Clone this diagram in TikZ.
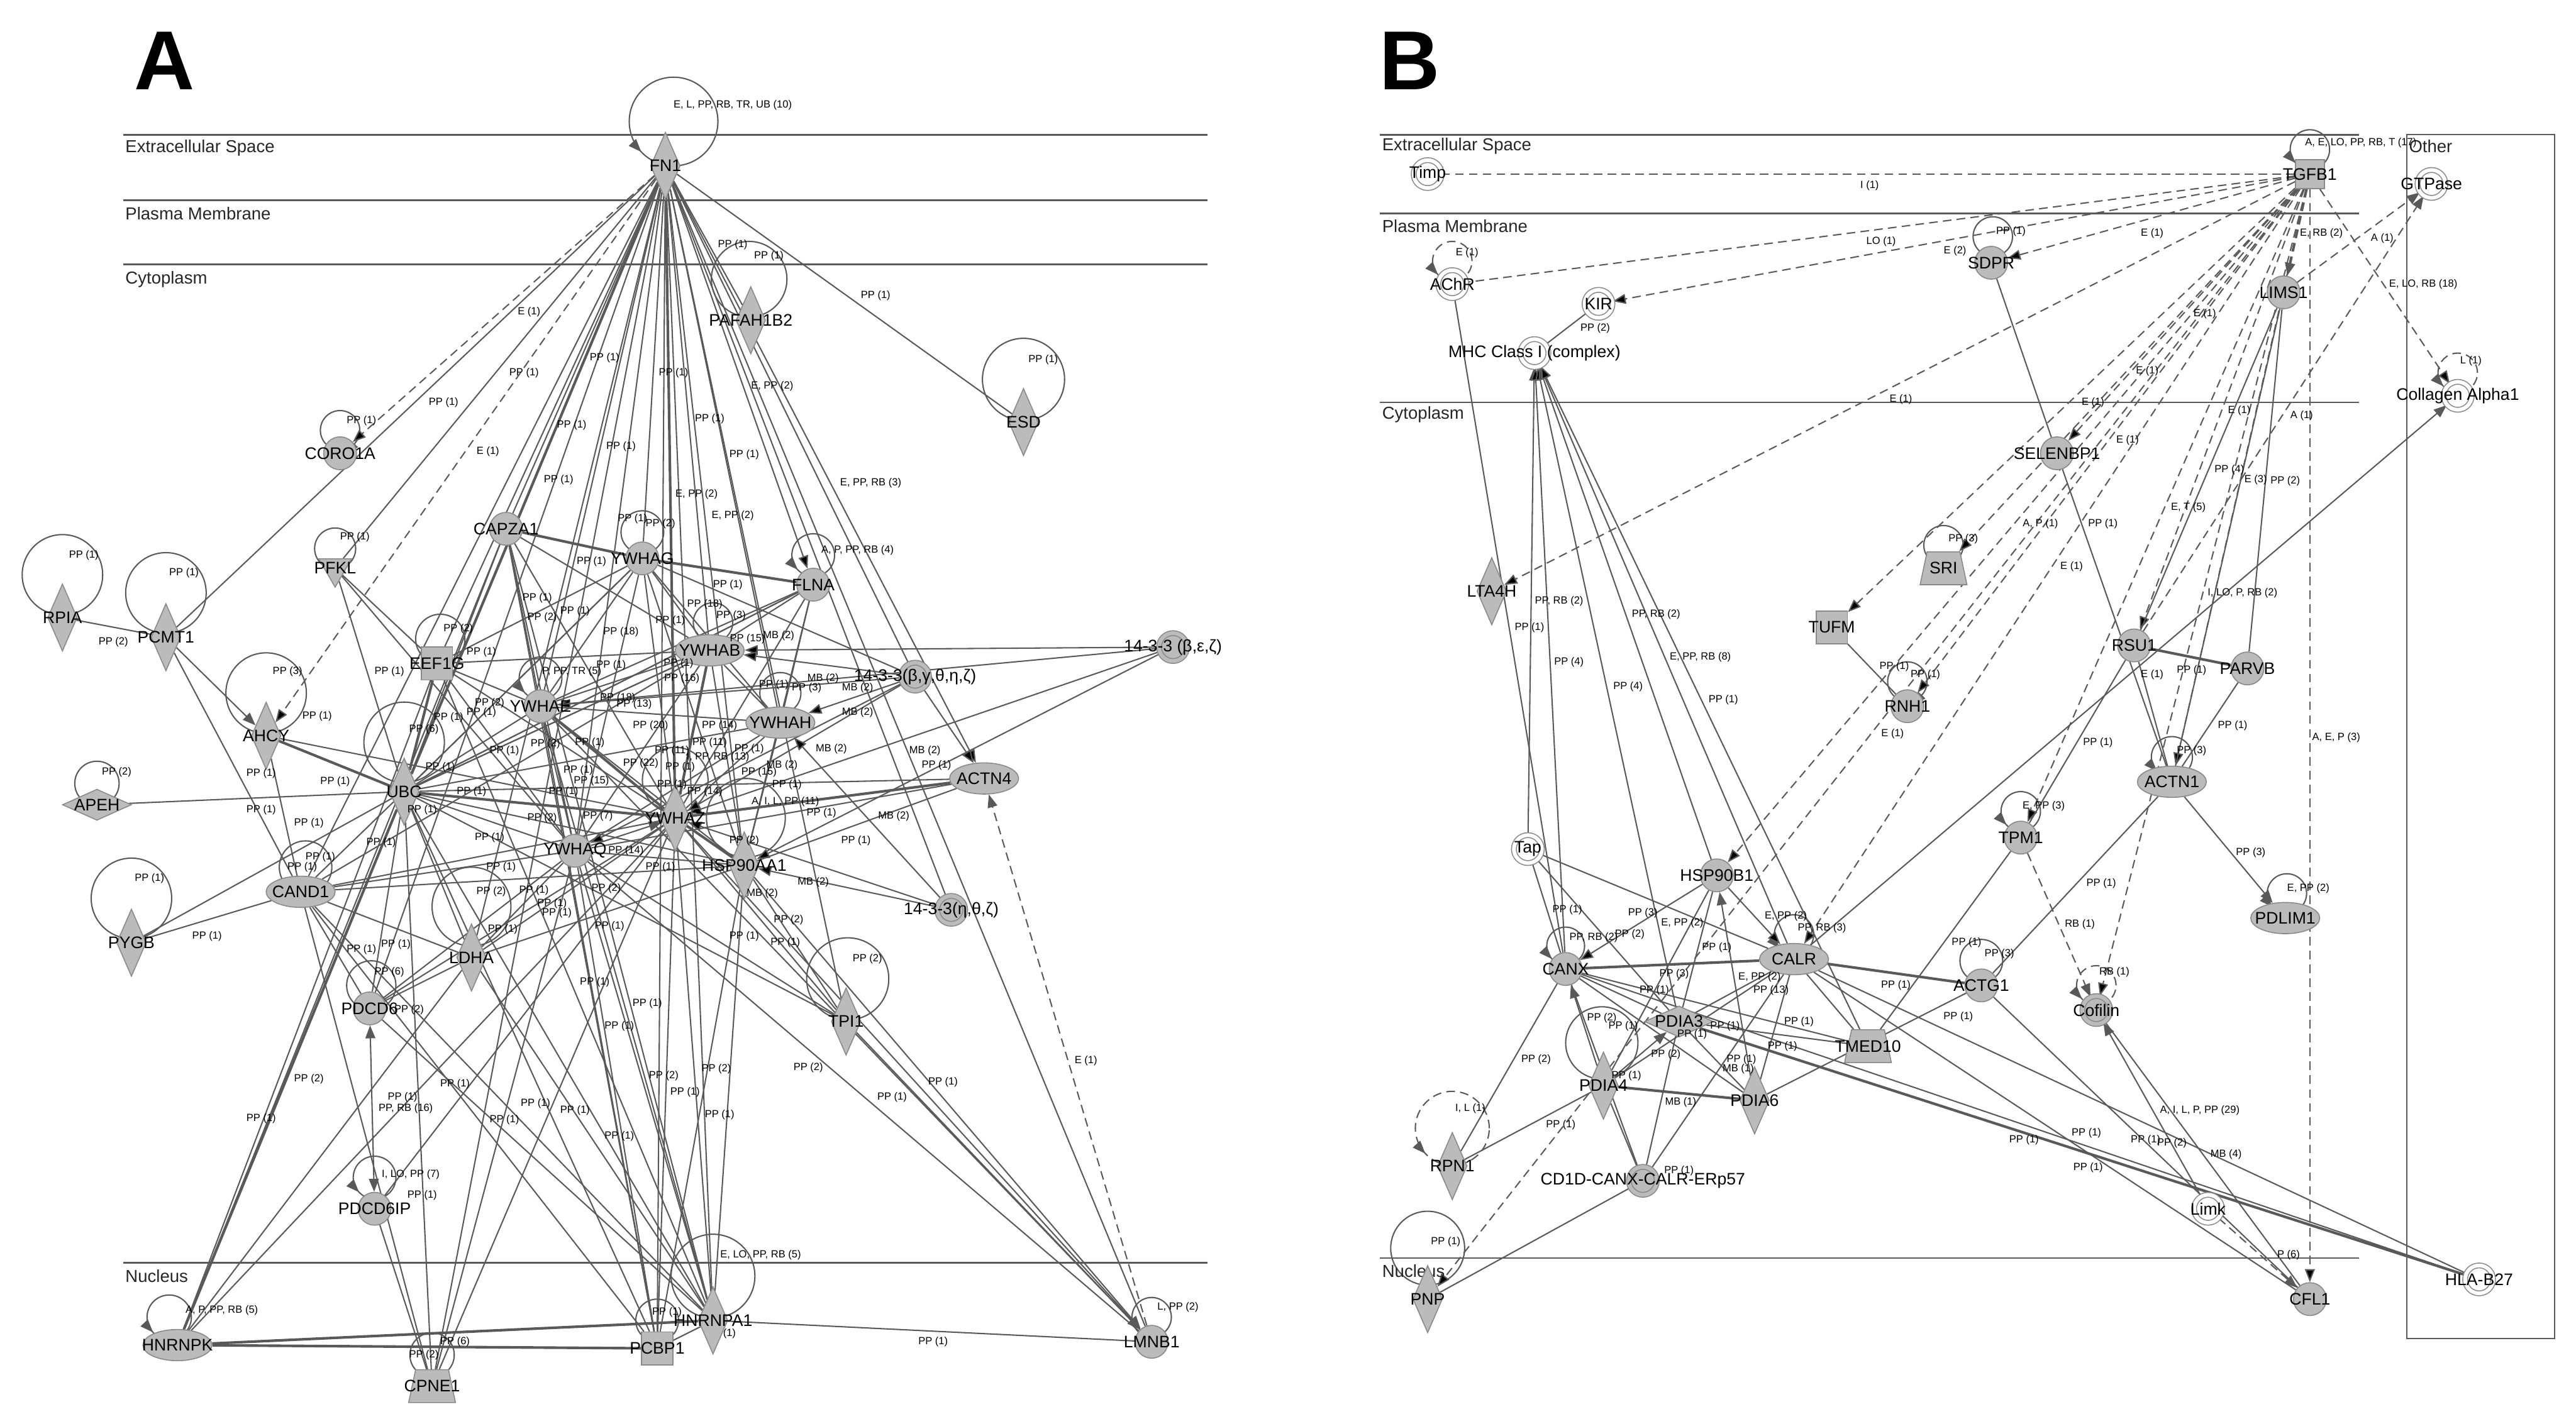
\documentclass[tikz,border=0pt]{standalone}
\usepackage{fontspec}
\setmainfont{Liberation Sans}
\usepackage{tikz}
\usetikzlibrary{positioning}
\usetikzlibrary{shapes.geometric,shapes.misc,arrows,calc,arrows.meta,backgrounds,decorations.markings}

\definecolor{edgecol}{HTML}{595959}
\definecolor{nodefill}{HTML}{BBBBBB}
\definecolor{nodeline}{HTML}{8A8A8A}
\newcommand\nodefont{\fontsize{5.8}{6}\selectfont}
\newcommand\edgefont{\fontsize{3.6}{4}\selectfont}
\newcommand\regionfont{\fontsize{6}{7}\selectfont}

\tikzset{
  lab/.style={font=\nodefont, text=black},
  gene/.style={draw=nodeline, fill=nodefill, line width=0.35pt, inner sep=0pt},
  circ/.style={gene, circle, minimum size=0.4cm, label={[lab]center:#1}},
  ell/.style={gene, ellipse, minimum width=0.84cm, minimum height=0.38cm, label={[lab]center:#1}},
  dia/.style={gene, diamond, minimum width=0.36cm, minimum height=0.82cm, label={[lab]center:#1}},
  hdia/.style={gene, diamond, minimum width=0.84cm, minimum height=0.38cm, label={[lab]center:#1}},
  tri/.style={gene, regular polygon, regular polygon sides=3, shape border rotate=180, minimum size=0.46cm, label={[lab]center:#1}},
  hexa/.style={gene, chamfered rectangle, chamfered rectangle xsep=1.5pt, minimum width=0.38cm, minimum height=0.4cm, label={[lab]center:#1}},
  ctop/.style={gene, chamfered rectangle, chamfered rectangle corners={north west,north east}, chamfered rectangle xsep=1.2pt, chamfered rectangle ysep=1.2pt, minimum width=0.38cm, minimum height=0.4cm, label={[lab]center:#1}},
  trap/.style={gene, trapezium, trapezium left angle=78, trapezium right angle=78, inner sep=1pt, minimum width=0.39cm, minimum height=0.4cm, label={[lab]center:#1}},
  sqr/.style={gene, rectangle, minimum size=0.35cm, label={[lab]center:#1}},
  grp/.style={gene, circle, double=nodefill, double distance=1.3pt, minimum size=0.34cm, label={[lab]center:#1}},
  wgrp/.style={grp=#1, fill=white, double=white},
  ed/.style={draw=edgecol, line width=0.45pt},
  edt/.style={draw=edgecol, line width=0.9pt},
  brk/.style={dash pattern=on 3pt off 1.8pt},
  loopc/.style={draw=edgecol, line width=0.45pt},
  loopl/.style={loopc, postaction={decorate, decoration={markings, mark=at position 0.62 with {\arrow{>}}}}},
  loopr/.style={loopc, postaction={decorate, decoration={markings, mark=at position 0.88 with {\arrow{<}}}}},
  region/.style={draw=edgecol, line width=0.6pt},
  reg/.style={font=\regionfont, text=black!85, inner sep=0pt, anchor=west},
  el/.style={font=\edgefont, text=black, inner sep=0pt},
  panel/.style={font=\fontsize{29}{30}\selectfont\bfseries}
}

\begin{document}
\begin{tikzpicture}[x=0.02cm, y=-0.02cm, >={Triangle[length=4.5pt,width=3.4pt]}]
\useasboundingbox (0,0) rectangle (1568,864);

\node[panel] (lettA) at (100,37) {A};
\node[panel] (lettB) at (858,37) {B};

\draw[region] (75,82) -- (735,82);
\draw[region] (75,122) -- (735,122);
\draw[region] (75,161) -- (735,161);
\draw[region] (75,769) -- (735,769);
\node[reg] (exA) at (76,90) {Extracellular Space};
\node[reg] (pmA) at (76,130) {Plasma Membrane};
\node[reg] (cyA) at (76,170) {Cytoplasm};
\node[reg] (nuA) at (76,777) {Nucleus};

\draw[region] (840,82) -- (1436,82);
\draw[region] (840,130) -- (1436,130);
\draw[region] (840,245) -- (1436,245);
\draw[region] (840,766) -- (1436,766);
\draw[ed] (1465,82) rectangle (1555,815);
\node[reg] (exB) at (841,89) {Extracellular Space};
\node[reg] (pmB) at (841,137.5) {Plasma Membrane};
\node[reg] (cyB) at (841,252.5) {Cytoplasm};
\node[reg] (nuB) at (841,774) {Nucleus};
\node[reg] (otB) at (1466,89) {Other};

% panel A
\node[dia=FN1] (FN1) at (405,101) {};
\node[dia=PAFAH1B2] (PAFAH1B2) at (457,195) {};
\node[dia=ESD] (ESD) at (623,257) {};
\node[circ=CORO1A] (CORO1A) at (207,276) {};
\node[circ=CAPZA1] (CAPZA1) at (308,322) {};
\node[dia=RPIA] (RPIA) at (38,376) {};
\node[dia=PCMT1] (PCMT1) at (101,388) {};
\node[tri=PFKL] (PFKL) at (204,346) {};
\node[circ=YWHAG] (YWHAG) at (391,340) {};
\node[circ=FLNA] (FLNA) at (495,356) {};
\node[hexa=EEF1G] (EEF1G) at (266,404) {};
\node[ell=YWHAB] (YWHAB) at (432,396) {};
\node[circ=YWHAE] (YWHAE) at (329,430) {};
\node[ell=YWHAH] (YWHAH) at (475,440) {};
\node[dia=AHCY] (AHCY) at (162,448) {};
\node[grp={14-3-3 (β,ε,ζ)}] (BEZ) at (714,394) {};
\node[grp={14-3-3(β,γ,θ,η,ζ)}] (BGTHZ) at (557,412) {};
\node[grp={14-3-3(η,θ,ζ)}] (HTZ) at (579,554) {};
\node[hdia=APEH] (APEH) at (59,490) {};
\node[dia=UBC] (UBC) at (246,482) {};
\node[ell=ACTN4] (ACTN4) at (599,474) {};
\node[dia=YWHAZ] (YWHAZ) at (411,498) {};
\node[circ=YWHAQ] (YWHAQ) at (350,518) {};
\node[dia=HSP90AA1] (HSP90AA1) at (453,527) {};
\node[ell=CAND1] (CAND1) at (183,543) {};
\node[dia=PYGB] (PYGB) at (80,574) {};
\node[dia=LDHA] (LDHA) at (287,583) {};
\node[circ=PDCD6] (PDCD6) at (225,614) {};
\node[dia=TPI1] (TPI1) at (515,622) {};
\node[circ=PDCD6IP] (PDCD6IP) at (228,736) {};
\node[ell=HNRNPK] (HNRNPK) at (108,819) {};
\node[trap=CPNE1] (CPNE1) at (263,844) {};
\node[ctop=PCBP1] (PCBP1) at (400,821) {};
\node[dia=HNRNPA1] (HNRNPA1) at (434,804) {};
\node[circ=LMNB1] (LMNB1) at (701,817) {};

% panel B
\node[wgrp=Timp] (Timp) at (869,106) {};
\node[sqr=TGFB1] (TGFB1) at (1406,106) {};
\node[wgrp=GTPase] (GTPase) at (1480,112) {};
\node[wgrp=AChR] (AChR) at (884,173) {};
\node[wgrp=KIR] (KIR) at (973,185) {};
\node[circ=SDPR] (SDPR) at (1212,160) {};
\node[circ=LIMS1] (LIMS1) at (1390,178) {};
\node[wgrp={MHC Class I (complex)}] (MHC) at (934,215) {};
\node[wgrp={Collagen Alpha1}] (Coll) at (1496,241) {};
\node[circ=SELENBP1] (SELENBP1) at (1252,276) {};
\node[trap=SRI] (SRI) at (1183,346) {};
\node[dia=LTA4H] (LTA4H) at (908,360) {};
\node[hexa=TUFM] (TUFM) at (1115,382) {};
\node[circ=RSU1] (RSU1) at (1299,393) {};
\node[circ=PARVB] (PARVB) at (1368,407) {};
\node[circ=RNH1] (RNH1) at (1161,430) {};
\node[ell=ACTN1] (ACTN1) at (1322,476) {};
\node[circ=TPM1] (TPM1) at (1230,510) {};
\node[wgrp=Tap] (Tap) at (930,517) {};
\node[circ=HSP90B1] (HSP90B1) at (1045,533) {};
\node[ell=PDLIM1] (PDLIM1) at (1391,559) {};
\node[ell=CALR] (CALR) at (1092,584) {};
\node[circ=CANX] (CANX) at (953,590) {};
\node[circ=ACTG1] (ACTG1) at (1206,600) {};
\node[grp=Cofilin] (Cofilin) at (1276,615) {};
\node[hdia=PDIA3] (PDIA3) at (1022,622) {};
\node[trap=TMED10] (TMED10) at (1137,637) {};
\node[dia=PDIA4] (PDIA4) at (976,661) {};
\node[dia=PDIA6] (PDIA6) at (1068,670) {};
\node[dia=RPN1] (RPN1) at (884,710) {};
\node[grp=CD1D-CANX-CALR-ERp57] (CD1D) at (1000,719) {};
\node[wgrp=Limk] (Limk) at (1344,736) {};
\node[wgrp=HLA-B27] (HLAB27) at (1509,779) {};
\node[dia=PNP] (PNP) at (869,791) {};
\node[circ=CFL1] (CFL1) at (1406,791) {};

\begin{scope}[on background layer]
% self loops
\draw[loopl] (410,74) circle[radius=0.54cm];
\draw[loopc] (456,170) circle[radius=0.46cm];
\draw[loopc] (623,231) circle[radius=0.5cm];
\draw[loopr] (207,262) circle[radius=0.24cm];
\draw[loopc] (38,350) circle[radius=0.49cm];
\draw[loopc] (101,361) circle[radius=0.49cm];
\draw[loopc] (204,334) circle[radius=0.25cm];
\draw[loopc] (268,389) circle[radius=0.3cm];
\draw[loopc] (162,422) circle[radius=0.49cm];
\draw[loopc] (59,477) circle[radius=0.27cm];
\draw[loopc] (246,452) circle[radius=0.49cm];
\draw[loopc] (186,528) circle[radius=0.32cm];
\draw[loopc] (80,547) circle[radius=0.49cm];
\draw[loopc] (287,552) circle[radius=0.48cm];
\draw[loopl] (329,413) circle[radius=0.26cm];
\draw[loopc] (434,379) circle[radius=0.24cm];
\draw[loopl] (495,338) circle[radius=0.26cm];
\draw[loopc] (475,422) circle[radius=0.25cm];
\draw[loopc] (391,324) circle[radius=0.26cm];
\draw[loopc] (454,498) circle[radius=0.48cm];
\draw[loopc] (411,475) circle[radius=0.4cm];
\draw[loopc] (516,596) circle[radius=0.5cm];
\draw[loopc] (226,600) circle[radius=0.3cm];
\draw[loopl] (228,717) circle[radius=0.26cm];
\draw[loopl] (103,802) circle[radius=0.27cm];
\draw[loopc] (263,825) circle[radius=0.27cm];
\draw[loopc] (400,804) circle[radius=0.26cm];
\draw[loopc] (434,777) circle[radius=0.51cm];
\draw[loopc] (701,802) circle[radius=0.24cm];
\draw[loopl] (1406,91) circle[radius=0.24cm];
\draw[loopl,brk] (884,159) circle[radius=0.24cm];
\draw[loopc] (1213,144) circle[radius=0.24cm];
\draw[loopl,brk] (1496,227) circle[radius=0.24cm];
\draw[loopr] (1183,332) circle[radius=0.24cm];
\draw[loopr] (1161,415) circle[radius=0.24cm];
\draw[loopl] (1322,461) circle[radius=0.25cm];
\draw[loopl] (1230,494) circle[radius=0.24cm];
\draw[loopl] (1392,544) circle[radius=0.24cm];
\draw[loopl,brk] (1276,600) circle[radius=0.24cm];
\draw[loopc] (1206,585) circle[radius=0.26cm];
\draw[loopl] (1092,569) circle[radius=0.24cm];
\draw[loopl] (953,576) circle[radius=0.23cm];
\draw[loopc] (975,635) circle[radius=0.44cm];
\draw[loopl,brk] (884,687) circle[radius=0.45cm];
\draw[loopc] (869,760) circle[radius=0.45cm];

% panel A connections
\draw[ed] (FN1) edge (PAFAH1B2) edge (ESD) edge (PCMT1) edge (PFKL) edge (CAPZA1) edge (YWHAG) edge (YWHAE) edge (YWHAQ) edge (YWHAB) edge (YWHAH) edge (HSP90AA1) edge (LDHA) edge (CAND1) edge (EEF1G) edge (TPI1) edge (HNRNPA1) edge (PCBP1) edge (LMNB1) edge (HTZ) edge (PDCD6) edge (CPNE1) edge (BGTHZ);
\draw[edt] (FN1) edge (UBC) edge (YWHAZ);
\draw[ed,->] (FN1) edge (FLNA) edge (ACTN4);
\draw[ed,brk,->] (FN1) edge (CORO1A) edge (AHCY);
\draw[ed] (RPIA) -- (PCMT1);
\draw[ed] (PCMT1) -- (CAND1);
\draw[ed,->] (PCMT1) -- (AHCY);
\draw[ed] (PFKL) edge (EEF1G) edge (UBC) edge (YWHAQ);
\draw[ed] (EEF1G) edge (YWHAE) edge (YWHAZ) edge (YWHAB) edge (YWHAQ) edge (YWHAG) edge (HNRNPK) edge (HNRNPA1);
\draw[edt] (EEF1G) -- (UBC);
\draw[ed] (CAPZA1) edge (UBC) edge (YWHAE) edge (YWHAQ) edge (YWHAZ) edge (HNRNPA1) edge (PCBP1) edge (YWHAB) edge (HNRNPK);
\draw[edt] (CAPZA1) -- (YWHAG);
\draw[edt] (YWHAG) -- (FLNA);
\draw[ed] (YWHAG) edge (YWHAB) edge (YWHAZ) edge (YWHAH) edge (YWHAE) edge (HSP90AA1) edge (BGTHZ) edge (UBC) edge (YWHAQ);
\draw[ed] (FLNA) edge (YWHAB) edge (YWHAH) edge (YWHAZ) edge (HSP90AA1) edge (UBC) edge (YWHAE);
\draw[ed] (YWHAB) edge (YWHAE) edge (YWHAQ) edge (YWHAH) edge (UBC) edge (HSP90AA1) edge (CAND1);
\draw[edt] (YWHAB) -- (YWHAZ);
\draw[ed,->] (BEZ) edge (YWHAB) edge (YWHAZ) edge (HSP90AA1);
\draw[ed,->] (BGTHZ) edge (YWHAB) edge (YWHAH) edge (YWHAZ) edge (YWHAE) edge (YWHAQ) edge (ACTN4);
\draw[ed,->] (HTZ) edge (YWHAH) edge (HSP90AA1) edge (YWHAZ);
\draw[edt] (ACTN4) -- (YWHAZ);
\draw[ed] (ACTN4) edge (UBC) edge (YWHAQ) edge (HSP90AA1);
\draw[ed,brk,->] (LMNB1) -- (ACTN4);
\draw[ed] (UBC) edge (APEH) edge (CAND1) edge (YWHAE) edge (YWHAB) edge (YWHAH) edge (YWHAQ) edge (HSP90AA1) edge (LDHA) edge (PDCD6) edge (TPI1) edge (CPNE1) edge (PCBP1) edge (HNRNPA1) edge (PYGB) edge (YWHAG) edge (FLNA);
\draw[edt] (UBC) edge (AHCY) edge (YWHAZ) edge (HNRNPK);
\draw[ed] (AHCY) edge (CAND1) edge (YWHAZ);
\draw[ed] (YWHAE) edge (YWHAQ) edge (YWHAH) edge (HSP90AA1) edge (HNRNPA1) edge (PCBP1) edge (LMNB1) edge (BEZ);
\draw[edt] (YWHAE) -- (YWHAZ);
\draw[ed] (YWHAQ) edge (HSP90AA1) edge (YWHAH) edge (CAND1) edge (LDHA) edge (PDCD6) edge (HNRNPA1) edge (PCBP1) edge (CPNE1) edge (LMNB1) edge (TPI1);
\draw[ed,->] (YWHAQ) -- (YWHAZ);
\draw[ed] (YWHAZ) edge (YWHAH) edge (CAND1) edge (LDHA) edge (PDCD6) edge (TPI1) edge (HNRNPA1) edge (PCBP1) edge (HNRNPK) edge (CPNE1) edge (PDCD6IP);
\draw[ed,->] (YWHAZ) -- (LMNB1);
\draw[edt] (YWHAZ) -- (HSP90AA1);
\draw[ed] (HSP90AA1) edge (TPI1) edge (HNRNPA1) edge (CAND1) edge (PCBP1) edge (YWHAH);
\draw[ed,->] (HSP90AA1) -- (LMNB1);
\draw[ed] (CAND1) edge (PYGB) edge (LDHA) edge (PDCD6) edge (HNRNPA1) edge (PCBP1) edge (CPNE1);
\draw[ed] (LDHA) edge (PDCD6) edge (HNRNPA1) edge (HSP90AA1) edge (HNRNPK);
\draw[ed,<->] (PDCD6) -- (PDCD6IP);
\draw[ed] (PDCD6) -- (HNRNPA1);
\draw[ed] (PDCD6IP) -- (CPNE1);
\draw[ed,->] (TPI1) -- (LMNB1);
\draw[edt] (HNRNPK) edge (HNRNPA1) edge (PCBP1);
\draw[ed] (HNRNPA1) edge (LMNB1) edge (PCBP1);

% panel B connections
\draw[ed,brk,-{Bar[width=5pt]}] (TGFB1) -- (Timp);
\draw[ed,brk] (TGFB1) -- (AChR);
\draw[ed,brk,->] (TGFB1) edge (KIR) edge (SDPR) edge (LTA4H) edge (Coll) edge (SELENBP1) edge (TUFM) edge (SRI) edge (RNH1) edge (HSP90B1) edge (RSU1) edge (ACTN1) edge (TPM1) edge (Cofilin) edge (CFL1) edge (PNP) edge (CALR);
\draw[edt,brk,->] (TGFB1) -- (LIMS1);
\draw[ed,brk,->] (LIMS1) -- (GTPase);
\draw[ed,brk,->] (RSU1) -- (GTPase);
\draw[ed] (KIR) -- (MHC);
\draw[ed] (AChR) -- (CANX);
\draw[ed] (SDPR) -- (SELENBP1);
\draw[ed] (SELENBP1) -- (ACTN1);
\draw[ed] (LIMS1) edge (RSU1) edge (PARVB) edge (ACTN1);
\draw[edt] (RSU1) -- (PARVB);
\draw[ed] (RSU1) edge (ACTN1) edge (TPM1);
\draw[ed] (PARVB) -- (ACTN1);
\draw[ed,->] (ACTN1) -- (PDLIM1);
\draw[ed] (ACTN1) -- (ACTG1);
\draw[ed] (TPM1) -- (TMED10);
\draw[ed] (TUFM) -- (RNH1);
\draw[ed,->] (CALR) -- (Coll);
\draw[ed,<-] (MHC) edge (Tap) edge (CANX) edge (PDIA3) edge (HSP90B1) edge (CALR) edge (TMED10);
\draw[ed] (Tap) edge (CANX) edge (CALR) edge (PDIA3);
\draw[ed,->] (HSP90B1) edge (CANX) edge (CALR);
\draw[ed] (HSP90B1) edge (PDIA3) edge (PDIA4);
\draw[ed,->] (PDIA6) -- (HSP90B1);
\draw[edt] (CANX) -- (CALR);
\draw[ed] (CANX) edge (PDIA3) edge (PDIA6) edge (TMED10) edge (HLAB27) edge (RPN1) edge (CD1D);
\draw[ed,->] (PDIA4) -- (CANX);
\draw[ed] (CALR) edge (PDIA3) edge (PDIA4) edge (PDIA6) edge (CD1D) edge (TMED10) edge (HLAB27) edge (CFL1);
\draw[edt] (CALR) -- (ACTG1);
\draw[ed] (PDIA3) edge (TMED10) edge (PDIA6) edge (CD1D);
\draw[edt] (PDIA3) -- (HLAB27);
\draw[ed,->] (PDIA4) -- (PDIA3);
\draw[edt] (PDIA4) -- (PDIA6);
\draw[ed] (PDIA4) edge (RPN1) edge (CD1D);
\draw[ed] (PDIA6) -- (ACTG1);
\draw[ed] (CD1D) -- (PNP);
\draw[ed] (ACTG1) -- (CFL1);
\draw[ed,->] (Limk) -- (Cofilin);
\draw[ed,brk,->] (Limk) -- (CFL1);
\draw[ed,brk,->] (TPM1) -- (Cofilin);
\draw[ed] (Cofilin) -- (CFL1);
\end{scope}

% panel A labels
\node[el] (a1) at (446,64) {E, L, PP, RB, TR, UB (10)};
\node[el] (a2) at (446,149) {PP (1)};
\node[el] (a3) at (468,156) {PP (1)};
\node[el] (a4) at (533,180) {PP (1)};
\node[el] (a5) at (635,219) {PP (1)};
\node[el] (a6) at (410,227) {PP (1)};
\node[el] (a7) at (470,235) {E, PP (2)};
\node[el] (a8) at (432,255) {PP (1)};
\node[el] (a9) at (378,272) {PP (1)};
\node[el] (a10) at (453,277) {PP (1)};
\node[el] (a11) at (530,294) {E, PP, RB (3)};
\node[el] (a12) at (424,301) {E, PP (2)};
\node[el] (a13) at (446,314) {E, PP (2)};
\node[el] (a14) at (522,335) {A, P, PP, RB (4)};
\node[el] (a15) at (322,190) {E (1)};
\node[el] (a16) at (368,218) {PP (1)};
\node[el] (a17) at (319,227) {PP (1)};
\node[el] (a18) at (270,245) {PP (1)};
\node[el] (a19) at (348,259) {PP (1)};
\node[el] (a20) at (297,275) {E (1)};
\node[el] (a21) at (340,292) {PP (1)};
\node[el] (a22) at (220,256) {PP (1)};
\node[el] (a23) at (51,338) {PP (1)};
\node[el] (a24) at (112,349) {PP (1)};
\node[el] (a25) at (69,391) {PP (2)};
\node[el] (a26) at (216,327) {PP (1)};
\node[el] (a27) at (279,383) {PP (2)};
\node[el] (a28) at (175,409) {PP (3)};
\node[el] (a29) at (193,436) {PP (1)};
\node[el] (a30) at (71,470) {PP (2)};
\node[el] (a31) at (204,476) {PP (1)};
\node[el] (a32) at (258,444) {PP (6)};
\node[el] (a33) at (195,522) {PP (1)};
\node[el] (a34) at (184,528) {PP (1)};
\node[el] (a35) at (91,535) {PP (1)};
\node[el] (a36) at (126,570) {PP (1)};
\node[el] (a37) at (299,543) {PP (2)};
\node[el] (a38) at (237,409) {PP (1)};
\node[el] (a39) at (159,471) {PP (1)};
\node[el] (a40) at (159,493) {PP (1)};
\node[el] (a41) at (188,501) {PP (1)};
\node[el] (a42) at (327,364) {PP (1)};
\node[el] (a43) at (330,376) {PP (2)};
\node[el] (a44) at (350,372) {PP (1)};
\node[el] (a45) at (378,385) {PP (18)};
\node[el] (a46) at (293,397) {PP (1)};
\node[el] (a47) at (372,405) {PP (1)};
\node[el] (a48) at (348,409) {P, PP, TR (5)};
\node[el] (a49) at (360,342) {PP (1)};
\node[el] (a50) at (298,428) {PP (2)};
\node[el] (a51) at (293,434) {PP (1)};
\node[el] (a52) at (273,437) {PP (1)};
\node[el] (a53) at (376,425) {PP (18)};
\node[el] (a54) at (386,429) {PP (13)};
\node[el] (a55) at (307,457) {PP (1)};
\node[el] (a56) at (332,453) {PP (2)};
\node[el] (a57) at (359,452) {PP (1)};
\node[el] (a58) at (268,467) {PP (1)};
\node[el] (a59) at (390,465) {PP (22)};
\node[el] (a60) at (287,482) {PP (1)};
\node[el] (a61) at (257,493) {PP (1)};
\node[el] (a62) at (352,469) {PP (1)};
\node[el] (a63) at (360,475.5) {PP (15)};
\node[el] (a64) at (343,482) {PP (1)};
\node[el] (a65) at (330,498) {PP (2)};
\node[el] (a66) at (364,497) {PP (7)};
\node[el] (a67) at (298,510) {PP (1)};
\node[el] (a68) at (232,513) {PP (1)};
\node[el] (a69) at (305,528) {PP (1)};
\node[el] (a70) at (325,542) {PP (1)};
\node[el] (a71) at (369,541) {PP (2)};
\node[el] (a72) at (336,550) {PP (1)};
\node[el] (a73) at (339,556) {PP (1)};
\node[el] (a74) at (306,566) {PP (1)};
\node[el] (a75) at (371,564) {PP (1)};
\node[el] (a76) at (220,578) {PP (1)};
\node[el] (a77) at (241,575) {PP (1)};
\node[el] (a78) at (237,592) {PP (6)};
\node[el] (a79) at (443,356) {PP (1)};
\node[el] (a80) at (429,368) {PP (18)};
\node[el] (a81) at (445,375) {PP (3)};
\node[el] (a82) at (408,378) {PP (1)};
\node[el] (a83) at (474,387) {MB (2)};
\node[el] (a84) at (455,389) {PP (15)};
\node[el] (a85) at (413,404) {PP (1)};
\node[el] (a86) at (415,413) {PP (16)};
\node[el] (a87) at (501,413) {MB (2)};
\node[el] (a88) at (491,419) {PP (3)};
\node[el] (a89) at (471,417) {PP (1)};
\node[el] (a90) at (522,419) {MB (2)};
\node[el] (a91) at (522,434) {MB (2)};
\node[el] (a92) at (396,442) {PP (20)};
\node[el] (a93) at (438,442) {PP (14)};
\node[el] (a94) at (432,452) {PP (11)};
\node[el] (a95) at (409,457) {PP (11)};
\node[el] (a96) at (437,461) {I, PP, RB (13)};
\node[el] (a97) at (456,456) {PP (1)};
\node[el] (a98) at (414,467) {PP (1)};
\node[el] (a99) at (476,466) {MB (2)};
\node[el] (a100) at (462,470) {PP (15)};
\node[el] (a101) at (409,478) {PP (1)};
\node[el] (a102) at (429,482) {PP (14)};
\node[el] (a103) at (479,478) {PP (1)};
\node[el] (a104) at (478,488) {A, I, L, PP (11)};
\node[el] (a105) at (500,495) {PP (1)};
\node[el] (a106) at (506,456) {MB (2)};
\node[el] (a107) at (563,457) {MB (2)};
\node[el] (a108) at (570,466) {PP (1)};
\node[el] (a109) at (544,497) {MB (2)};
\node[el] (a110) at (521,512) {PP (1)};
\node[el] (a111) at (453,512) {PP (2)};
\node[el] (a112) at (381,518) {PP (14)};
\node[el] (a113) at (402,528) {PP (1)};
\node[el] (a114) at (495,537) {MB (2)};
\node[el] (a115) at (464,544) {MB (2)};
\node[el] (a116) at (480,560) {PP (2)};
\node[el] (a117) at (453,570) {PP (1)};
\node[el] (a118) at (478,574) {PP (1)};
\node[el] (a119) at (528,584) {PP (2)};
\node[el] (a120) at (362,598) {PP (1)};
\node[el] (a121) at (394,611) {PP (1)};
\node[el] (a122) at (377,625) {PP (1)};
\node[el] (a125) at (249,615) {PP (2)};
\node[el] (a126) at (188,657) {PP (2)};
\node[el] (a127) at (159,681) {PP (1)};
\node[el] (a128) at (277,660) {PP (1)};
\node[el] (a129) at (245,668) {PP (1)};
\node[el] (a130) at (247,675) {PP, RB (16)};
\node[el] (a131) at (326,672) {PP (1)};
\node[el] (a132) at (350,676) {PP (1)};
\node[el] (a133) at (307,682) {PP (1)};
\node[el] (a134) at (404,655) {PP (2)};
\node[el] (a135) at (436,651) {PP (2)};
\node[el] (a136) at (417,665) {PP (1)};
\node[el] (a137) at (438,679) {PP (1)};
\node[el] (a138) at (377,692) {PP (1)};
\node[el] (a139) at (492,650) {PP (2)};
\node[el] (a140) at (543,668) {PP (1)};
\node[el] (a141) at (574,659) {PP (1)};
\node[el] (a142) at (661,646) {E (1)};
\node[el] (a143) at (250,715) {I, LO, PP (7)};
\node[el] (a144) at (257,728) {PP (1)};
\node[el] (a145) at (463,764) {E, LO, PP, RB (5)};
\node[el] (a146) at (135,798) {A, P, PP, RB (5)};
\node[el] (a147) at (717,796) {L, PP (2)};
\node[el] (a148) at (568,817) {PP (1)};
\node[el] (a149) at (258,825) {PP (2)};
\node[el] (a150) at (277,817) {PP (6)};
\node[el] (a152) at (444,812) {(1)};
\node[el] (a153) at (406,799) {PP (1)};
\node[el] (a154) at (385,316) {PP (1)};
\node[el] (a155) at (402,319) {PP (2)};

% panel B labels
\node[el] (b1) at (1138,113) {I (1)};
\node[el] (b2) at (1145,147) {LO (1)};
\node[el] (b3) at (1190,153) {E (2)};
\node[el] (b4) at (893,154) {E (1)};
\node[el] (b5) at (971,200) {PP (2)};
\node[el] (b6) at (1157,243) {E (1)};
\node[el] (b7) at (1224,141) {PP (1)};
\node[el] (b8) at (1310,142) {E (1)};
\node[el] (b9) at (1413,142) {E, RB (2)};
\node[el] (b10) at (1437,87) {A, E, LO, PP, RB, T (17)};
\node[el] (b11) at (1450,145) {A (1)};
\node[el] (b12) at (1475,173) {E, LO, RB (18)};
\node[el] (b13) at (1504,220) {L (1)};
\node[el] (b14) at (1342,191) {E (1)};
\node[el] (b15) at (1307,226) {E (1)};
\node[el] (b16) at (1274,245) {E (1)};
\node[el] (b17) at (1295,268) {E (1)};
\node[el] (b18) at (1363,250) {E (1)};
\node[el] (b19) at (1401,253) {A (1)};
\node[el] (b20) at (1357,286) {PP (4)};
\node[el] (b21) at (1373,292) {E (3)};
\node[el] (b22) at (1391,293) {PP (2)};
\node[el] (b23) at (1332,309) {E, T (5)};
\node[el] (b24) at (1242,319) {A, P (1)};
\node[el] (b25) at (1280,319) {PP (1)};
\node[el] (b26) at (1195,328) {PP (3)};
\node[el] (b27) at (1261,345) {E (1)};
\node[el] (b28) at (1365,361) {I, LO, P, RB (2)};
\node[el] (b29) at (1310,411) {E (1)};
\node[el] (b30) at (1334,408) {PP (1)};
\node[el] (b31) at (1359,442) {PP (1)};
\node[el] (b32) at (1422,449) {A, E, P (3)};
\node[el] (b33) at (1277,452) {PP (1)};
\node[el] (b34) at (1334,457) {PP (3)};
\node[el] (b35) at (1244,491) {E, PP (3)};
\node[el] (b36) at (1370,519) {PP (3)};
\node[el] (b37) at (1279,538) {PP (1)};
\node[el] (b38) at (1405,541) {E, PP (2)};
\node[el] (b39) at (1266,563) {RB (1)};
\node[el] (b40) at (1217,581) {PP (3)};
\node[el] (b41) at (1287,592) {RB (1)};
\node[el] (b42) at (949,366) {PP, RB (2)};
\node[el] (b43) at (931,382) {PP (1)};
\node[el] (b44) at (1008,374) {PP, RB (2)};
\node[el] (b45) at (955,403) {PP (4)};
\node[el] (b46) at (1035,400) {E, PP, RB (8)};
\node[el] (b47) at (991,418) {PP (4)};
\node[el] (b48) at (1049,426) {PP (1)};
\node[el] (b49) at (1153,406) {PP (1)};
\node[el] (b50) at (1172,411) {PP (1)};
\node[el] (b51) at (1152,447) {E (1)};
\node[el] (b52) at (954,554) {PP (1)};
\node[el] (b53) at (1000,556) {PP (3)};
\node[el] (b54) at (1024,562) {E, PP (2)};
\node[el] (b55) at (970,571) {PP, RB (2)};
\node[el] (b56) at (992,569) {PP (2)};
\node[el] (b57) at (1045,577) {PP (1)};
\node[el] (b58) at (1087,558) {E, PP (2)};
\node[el] (b59) at (1109,565) {PP, RB (3)};
\node[el] (b60) at (1197,574) {PP (1)};
\node[el] (b61) at (1019,593) {PP (3)};
\node[el] (b62) at (1071,595) {E, PP (2)};
\node[el] (b63) at (1078,603) {PP (13)};
\node[el] (b64) at (1007,603) {PP (1)};
\node[el] (b65) at (1154,600) {PP (1)};
\node[el] (b66) at (1192,619) {PP (1)};
\node[el] (b67) at (975,620) {PP (2)};
\node[el] (b68) at (988,625) {PP (1)};
\node[el] (b69) at (1095,622) {PP (1)};
\node[el] (b70) at (1050,625) {PP (1)};
\node[el] (b71) at (1030,630) {PP (1)};
\node[el] (b72) at (1085,637) {PP (1)};
\node[el] (b73) at (1014,642) {PP (2)};
\node[el] (b74) at (935,645) {PP (2)};
\node[el] (b75) at (1060,645) {PP (1)};
\node[el] (b76) at (1058,651) {MB (1)};
\node[el] (b77) at (990,655) {PP (1)};
\node[el] (b78) at (1023,671) {MB (1)};
\node[el] (b79) at (895,675) {I, L (1)};
\node[el] (b80) at (950,685) {PP (1)};
\node[el] (b81) at (1339,676) {A, I, L, P, PP (29)};
\node[el] (b82) at (1232,694) {PP (1)};
\node[el] (b83) at (1270,690) {PP (1)};
\node[el] (b84) at (1306,694) {PP (1)};
\node[el] (b85) at (1322,696) {PP (2)};
\node[el] (b86) at (1355,703) {MB (4)};
\node[el] (b87) at (1271,711) {PP (1)};
\node[el] (b88) at (1022,713) {PP (1)};
\node[el] (b89) at (880,756) {PP (1)};
\node[el] (b90) at (1393,764) {P (6)};
\end{tikzpicture}
\end{document}
